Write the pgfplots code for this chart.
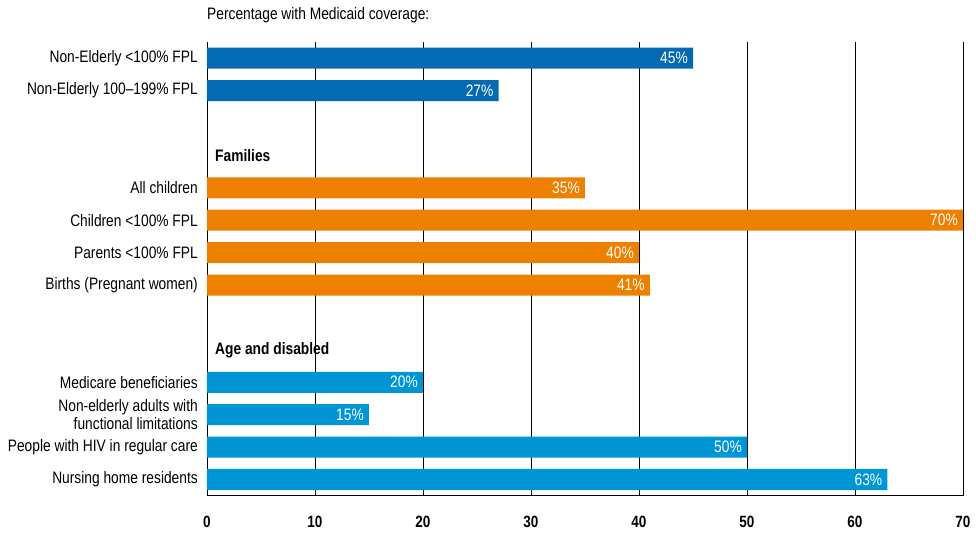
\documentclass[border=0pt]{standalone}
\usepackage{pgfplots}
\pgfplotsset{compat=1.18}
\usepackage{fontspec}
\setmainfont{Liberation Sans}[FakeStretch=0.83]
\newcommand\lbl{\fontsize{16.6pt}{17.6pt}\selectfont}
\definecolor{dblue}{RGB}{4,106,178}
\definecolor{orng}{RGB}{238,128,0}
\definecolor{lblue}{RGB}{0,150,214}
\begin{document}
\begin{tikzpicture}
\useasboundingbox (-207pt,-40.3pt) rectangle (769pt,495.7pt);
\begin{axis}[
  at={(0pt,0pt)}, anchor=south west,
  scale only axis, width=756pt, height=453.7pt,
  xmin=0, xmax=70, ymin=-13.5, ymax=0.5,
  xbar, bar width=21pt, bar shift=0pt,
  xtick={0,10,...,70},
  xmajorgrids, major grid style={black, line width=0.8pt},
  axis x line*=bottom, axis y line*=left,
  axis line style={black, line width=0.8pt},
  major tick length=0pt,
  ytick={0,-1,-4,-5,-6,-7,-10,-11,-12,-13},
  yticklabels={Non-Elderly <100\% FPL, Non-Elderly 100--199\% FPL,
    All children, Children <100\% FPL, Parents <100\% FPL, Births (Pregnant women),
    Medicare beneficiaries, {Non-elderly adults with\\functional limitations},
    People with HIV in regular care, Nursing home residents},
  yticklabel style={font=\lbl, align=right, inner sep=0pt, xshift=-9pt},
  xticklabel style={font=\bfseries\fontsize{16.3pt}{17pt}\selectfont, inner sep=0pt, yshift=-20.5pt},
  /pgf/number format/assume math mode=true,
  point meta=x,
  nodes near coords={\pgfmathprintnumber{\pgfplotspointmeta}\%},
  nodes near coords align={anchor=east},
  every node near coord/.append style={font=\lbl, text=white, inner sep=0pt, xshift=-5pt, anchor=east},
]
\addplot[fill=dblue, draw=none] coordinates {(45,0) (27,-1)};
\addplot[fill=orng, draw=none] coordinates {(35,-4) (70,-5) (40,-6) (41,-7)};
\addplot[fill=lblue, draw=none] coordinates {(20,-10) (15,-11) (50,-12) (63,-13)};
\node[anchor=west, font=\bfseries\lbl, inner sep=0pt, xshift=8pt] at (axis cs:0,-3) {Families};
\node[anchor=west, font=\bfseries\lbl, inner sep=0pt, xshift=8pt] at (axis cs:0,-9) {Age and disabled};
\end{axis}
\node[anchor=base west, font=\lbl, inner sep=0pt] at (0pt,476.5pt) {Percentage with Medicaid coverage:};
\end{tikzpicture}
\end{document}
